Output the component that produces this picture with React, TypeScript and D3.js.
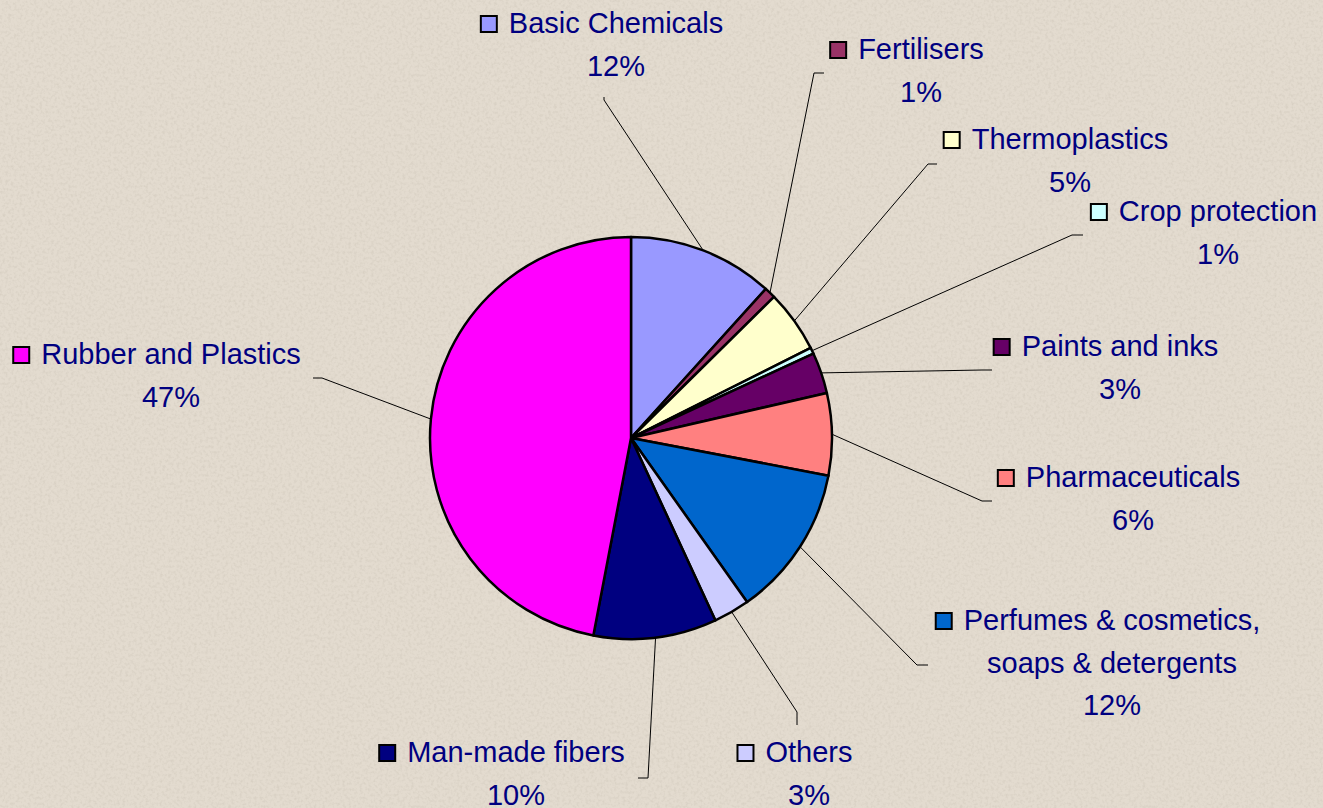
import React, { useEffect, useRef } from "react";
import * as d3 from "d3";

// slices, clockwise from 12 o'clock
const categories = [
  "Basic Chemicals",
  "Fertilisers",
  "Thermoplastics",
  "Crop protection",
  "Paints and inks",
  "Pharmaceuticals",
  "Perfumes & cosmetics,|soaps & detergents",
  "Others",
  "Man-made fibers",
  "Rubber and Plastics",
];
const shares = [11.7, 0.9, 5.0, 0.5, 3.3, 6.6, 12.2, 2.9, 9.9, 47.0];
const shareLabels = ["12%", "1%", "5%", "1%", "3%", "6%", "12%", "3%", "10%", "47%"];
const colors = [
  "#9999FF", "#993366", "#FFFFCC", "#CCFFFF", "#660066",
  "#FF8080", "#0066CC", "#CCCCFF", "#000080", "#FF00FF",
];

// label layout: text block centre x, first baseline y, leader elbow, hook end
const labelLayout = [
  { cx: 616, by: 33, elbow: [604, 100], hook: [604, 97] },
  { cx: 921, by: 59, elbow: [814, 73], hook: [824, 73] },
  { cx: 1070, by: 149, elbow: [928, 164], hook: [937, 164] },
  { cx: 1218, by: 221, elbow: [1072, 235], hook: [1083, 235] },
  { cx: 1120, by: 356, elbow: [982, 370], hook: [992, 370] },
  { cx: 1133, by: 487, elbow: [982, 501], hook: [992, 501] },
  { cx: 1112, by: 630, elbow: [917, 665], hook: [928, 665] },
  { cx: 809, by: 762, elbow: [797, 712], hook: [797, 725] },
  { cx: 516, by: 762, elbow: [648, 778], hook: [638, 778] },
  { cx: 171, by: 364, elbow: [322, 378], hook: [313, 378] },
];

const W = 1323;
const H = 808;
const CX = 631;
const CY = 438;
const R = 201;
const FONT = "'Liberation Sans', Arial, sans-serif";

export default function App() {
  const ref = useRef<SVGSVGElement>(null);

  useEffect(() => {
    document.body.style.margin = "0";
    const svg = d3.select(ref.current);
    svg.selectAll("*").remove();

    const defs = svg.append("defs");
    const f = defs.append("filter").attr("id", "speckle").attr("x", 0).attr("y", 0).attr("width", "100%").attr("height", "100%");
    f.append("feTurbulence").attr("type", "fractalNoise").attr("baseFrequency", 0.35).attr("numOctaves", 2).attr("seed", 3).attr("result", "n");
    f.append("feColorMatrix").attr("in", "n").attr("type", "matrix")
      .attr("values", "0 0 0 0 0.55  0 0 0 0 0.5  0 0 0 0 0.42  0 0 0 -2.2 1.25");

    svg.append("rect").attr("width", W).attr("height", H).attr("fill", "#E3DBCF");
    svg.append("rect").attr("width", W).attr("height", H).attr("filter", "url(#speckle)").attr("opacity", 0.35);

    const pie = d3.pie<number>().sort(null).value((d) => d);
    const arcs = pie(shares);
    const arc = d3.arc<d3.PieArcDatum<number>>().innerRadius(0).outerRadius(R);

    const g = svg.append("g").attr("transform", `translate(${CX},${CY})`);
    g.selectAll("path.slice")
      .data(arcs)
      .join("path")
      .attr("class", "slice")
      .attr("d", arc)
      .attr("fill", (_, i) => colors[i])
      .attr("stroke", "#000")
      .attr("stroke-width", 2.5)
      .attr("stroke-linejoin", "round");

    // leader lines
    arcs.forEach((a, i) => {
      const mid = (a.startAngle + a.endAngle) / 2;
      const sx = CX + Math.sin(mid) * R;
      const sy = CY - Math.cos(mid) * R;
      const L = labelLayout[i];
      svg.append("polyline")
        .attr("points", `${sx},${sy} ${L.elbow[0]},${L.elbow[1]} ${L.hook[0]},${L.hook[1]}`)
        .attr("fill", "none")
        .attr("stroke", "#000")
        .attr("stroke-width", 1);
    });

    // labels
    categories.forEach((c, i) => {
      const L = labelLayout[i];
      const lines = [...c.split("|"), shareLabels[i]];
      const tg = svg.append("g");
      let firstW = 0;
      lines.forEach((t, j) => {
        const tx = tg.append("text")
          .attr("x", L.cx)
          .attr("y", L.by + j * 42.5)
          .attr("text-anchor", "middle")
          .attr("font-family", FONT)
          .attr("font-size", 29)
          .attr("fill", "#000080")
          .text(t);
        if (j === 0) firstW = (tx.node() as SVGTextElement).getComputedTextLength();
      });
      const sqRight = L.cx - firstW / 2 - 11;
      tg.append("rect")
        .attr("x", sqRight - 17)
        .attr("y", L.by - 17)
        .attr("width", 16)
        .attr("height", 16)
        .attr("fill", colors[i])
        .attr("stroke", "#000")
        .attr("stroke-width", 2);
    });
  }, []);

  return <svg ref={ref} width={W} height={H} style={{ display: "block" }} />;
}
